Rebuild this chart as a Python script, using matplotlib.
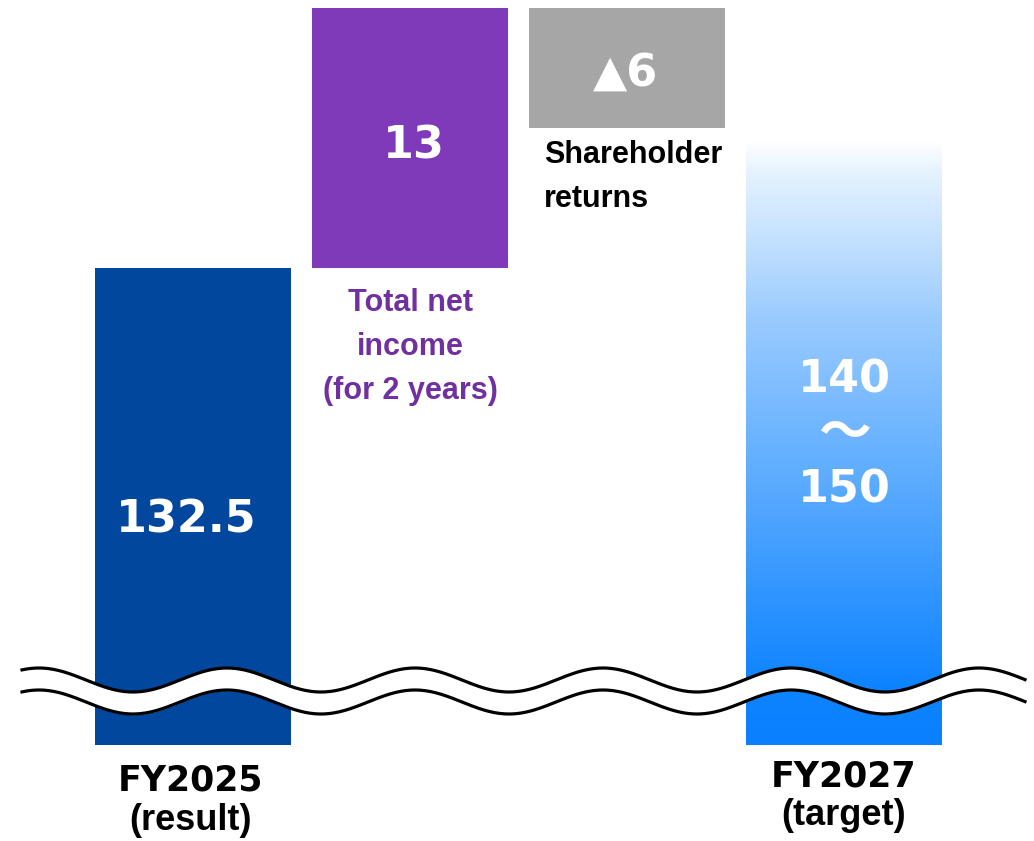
import matplotlib.pyplot as plt
import numpy as np
from matplotlib.colors import LinearSegmentedColormap

# values (billions of yen)
start_value = 132.5
net_income = 13
returns = -6
target_range = (140, 150)
base = 108.65  # cut off bottom of broken axis

years = ['FY2025', 'FY2027']
year_notes = ['(result)', '(target)']
step_labels = ['Total net\nincome\n(for 2 years)', 'Shareholder\nreturns']

c_dark = '#00479d'
c_purple = '#7e3ab8'
c_gray = '#a6a6a6'
c_text_purple = '#7030a0'

fig = plt.figure(figsize=(10.34, 8.41), dpi=100)
ax = fig.add_axes([0, 0, 1, 1])
xlim = (-193 / 217, (1034 - 193) / 217)
ylim = (103.85, 145.9)


def py(p):
    # pixel row -> data value
    return start_value - (p - 268) / 20


w = 0.903
after_income = start_value + net_income
after_returns = after_income + returns

ax.bar(0, start_value - base, bottom=base, width=w, color=c_dark, zorder=2)
ax.bar(1, net_income, bottom=start_value, width=w, color=c_purple, zorder=2)
ax.bar(2, -returns, bottom=after_returns, width=w, color=c_gray, zorder=2)

# gradient target bar
top4 = after_returns - 0.6
tb = ax.bar(3, top4 - base, bottom=base, width=w, color='none', zorder=2)[0]
cmap = LinearSegmentedColormap.from_list('grad', [
    (0.0, '#0a80ff'), (0.1, '#0e84ff'), (0.3, '#3d9bff'), (0.5, '#6ab3ff'),
    (0.7, '#98caff'), (0.85, '#c8e3fe'), (0.95, '#e6f3ff'), (1.0, '#ffffff')])
grad = np.linspace(0, 1, 256).reshape(-1, 1)
im = ax.imshow(grad, cmap=cmap, origin='lower', aspect='auto',
               extent=(3 - w / 2, 3 + w / 2, base, top4), zorder=2)
im.set_clip_path(tb)
ax.set_xlim(*xlim)
ax.set_ylim(*ylim)
ax.axis('off')

# break marker (wave)
px = np.linspace(22, 1025, 600)
y_top = 680 - 12 * np.cos(2 * np.pi * (px - 39) / 188)
y_bot = y_top + 22
xd = (px - 193) / 217
ax.fill_between(xd, py(y_bot), py(y_top), color='white', zorder=3)
ax.plot(xd, py(y_top), color='black', lw=2.3, zorder=4)
ax.plot(xd, py(y_bot), color='black', lw=2.3, zorder=4)

# value labels
num_font = dict(fontsize=32, fontweight='bold', color='white', ha='center', va='center',
                family='DejaVu Sans', zorder=5)
ax.text(-0.03, py(520), f'{start_value}', **num_font)
ax.text(1.02, py(146), f'{net_income}', **num_font)
ax.text(1.995, py(73), f'▲{-returns}', **num_font)
ax.text(3, py(380), f'{target_range[0]}', **num_font)
ax.text(3, py(434), '～', fontsize=38, color='white', ha='center', va='center',
        family=['Noto Sans CJK JP', 'DejaVu Sans'], fontweight='bold', zorder=5)
ax.text(3, py(490), f'{target_range[1]}', **num_font)

sans = ['Liberation Sans', 'DejaVu Sans']
ax.text(1.0, py(347), step_labels[0], fontsize=22, fontweight='bold', color=c_text_purple,
        ha='center', va='center', family=sans, linespacing=1.6)
ax.text(1.618, py(140), step_labels[1], fontsize=22, fontweight='bold', color='black',
        ha='left', va='top', family=sans, linespacing=1.6)

# x labels
ax.text(-0.01, py(781), years[0], fontsize=25, fontweight='bold', color='black',
        ha='center', va='center', family='DejaVu Sans')
ax.text(-0.01, py(821), year_notes[0], fontsize=26, fontweight='bold', color='black',
        ha='center', va='center', family=sans)
ax.text(3.0, py(777), years[1], fontsize=25, fontweight='bold', color='black',
        ha='center', va='center', family='DejaVu Sans')
ax.text(3.0, py(816), year_notes[1], fontsize=26, fontweight='bold', color='black',
        ha='center', va='center', family=sans)

fig.savefig('out.png', dpi=100)
